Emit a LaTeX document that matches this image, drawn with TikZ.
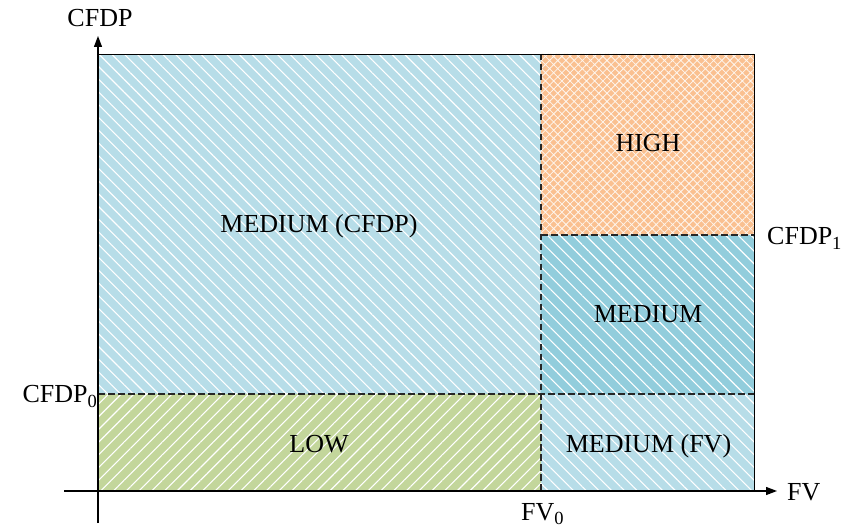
\documentclass[tikz,border=0pt]{standalone}
\usepackage{fontspec}
\setmainfont{Liberation Serif}
\usetikzlibrary{patterns.meta,arrows.meta}

\definecolor{paleblue}{HTML}{B7DDE8}
\definecolor{deepblue}{HTML}{92CDDC}
\definecolor{peach}{HTML}{FAC090}
\definecolor{olive}{HTML}{C3D69B}

\newcommand{\lowidx}[1]{\raisebox{-4.5pt}{\fontsize{18.5}{18.5}\selectfont #1}}

\tikzset{
  backslash/.style={pattern={Lines[angle=-45,distance=9pt,line width=1.1pt]},pattern color=white},
  slash/.style={pattern={Lines[angle=45,distance=9pt,line width=1.1pt]},pattern color=white},
  cross/.style={pattern={Hatch[angle=45,distance=5.8pt,line width=0.8pt]},pattern color=white!85!peach},
  bound/.style={black!85,dash pattern=on 6.5pt off 3.5pt,line width=1.1pt},
  frameline/.style={black,line width=0.9pt},
  axis/.style={black,line width=1.3pt,-{Triangle[length=11pt,width=8pt]}},
  plainaxis/.style={black,line width=1.3pt},
  lbl/.style={inner sep=0pt,anchor=base,font=\fontsize{26}{28}\selectfont},
  ticklbl/.style={inner sep=0pt,anchor=base west,font=\fontsize{26}{28}\selectfont}
}

\begin{document}
\begin{tikzpicture}[x=1pt,y=1pt]
  \useasboundingbox (0,0) rectangle (860,528);

  % corner points of the chart
  \coordinate (ur) at (754,474);
  \coordinate (fvtop) at (541,474);
  \coordinate (fvbot) at (541,37);
  \coordinate (c0l) at (98,134);
  \coordinate (c0r) at (754,134);
  \coordinate (c1l) at (541,293);
  \coordinate (c1r) at (754,293);
  \coordinate (xstart) at (64,37);
  \coordinate (xend) at (777,37);
  \coordinate (ystart) at (98,5);
  \coordinate (ybreak) at (98,470);
  \coordinate (yend) at (98,492);
  \coordinate (ul) at (98,474);
  \coordinate (lr) at (754,37);

  % coloured zones
  \fill[paleblue] (98,134) rectangle (541,474);
  \fill[backslash] (98,134) rectangle (541,474);
  \fill[peach] (541,293) rectangle (754,474);
  \fill[cross] (541,293) rectangle (754,474);
  \fill[deepblue] (541,134) rectangle (754,293);
  \fill[backslash] (541,134) rectangle (754,293);
  \fill[olive] (98,37) rectangle (541,134);
  \fill[slash] (98,37) rectangle (541,134);
  \fill[paleblue] (541,37) rectangle (754,134);
  \fill[backslash] (541,37) rectangle (754,134);

  % thresholds
  \draw[bound] (fvtop) -- (fvbot);
  \draw[bound] (c0l) -- (c0r);
  \draw[bound] (c1l) -- (c1r);

  % outer frame
  \draw[frameline] (ul) -- (ur) -- (lr);

  % axes
  \draw[axis] (xstart) -- (xend);
  \draw[plainaxis] (ystart) -- (ybreak);
  \draw[axis] (ybreak) -- (yend);

  % axis labels
  \node[lbl] (ylab) at (100,501) {CFDP};
  \node[ticklbl] (xlab) at (787,28) {FV};
  \node[ticklbl] (fv0) at (521,8) {FV\lowidx{0}};
  \node[inner sep=0pt,anchor=base east,font=\fontsize{26}{28}\selectfont] (cfdp0) at (97,125) {CFDP\lowidx{0}};
  \node[ticklbl] (cfdp1) at (767,283) {CFDP\lowidx{1}};

  % zone labels
  \node[lbl] (medc) at (319,295) {MEDIUM (CFDP)};
  \node[lbl] (high) at (648,376) {HIGH};
  \node[lbl] (med) at (648,205) {MEDIUM};
  \node[lbl] (low) at (319,76) {LOW};
  \node[lbl] (medf) at (648.5,76) {MEDIUM (FV)};
\end{tikzpicture}
\end{document}
